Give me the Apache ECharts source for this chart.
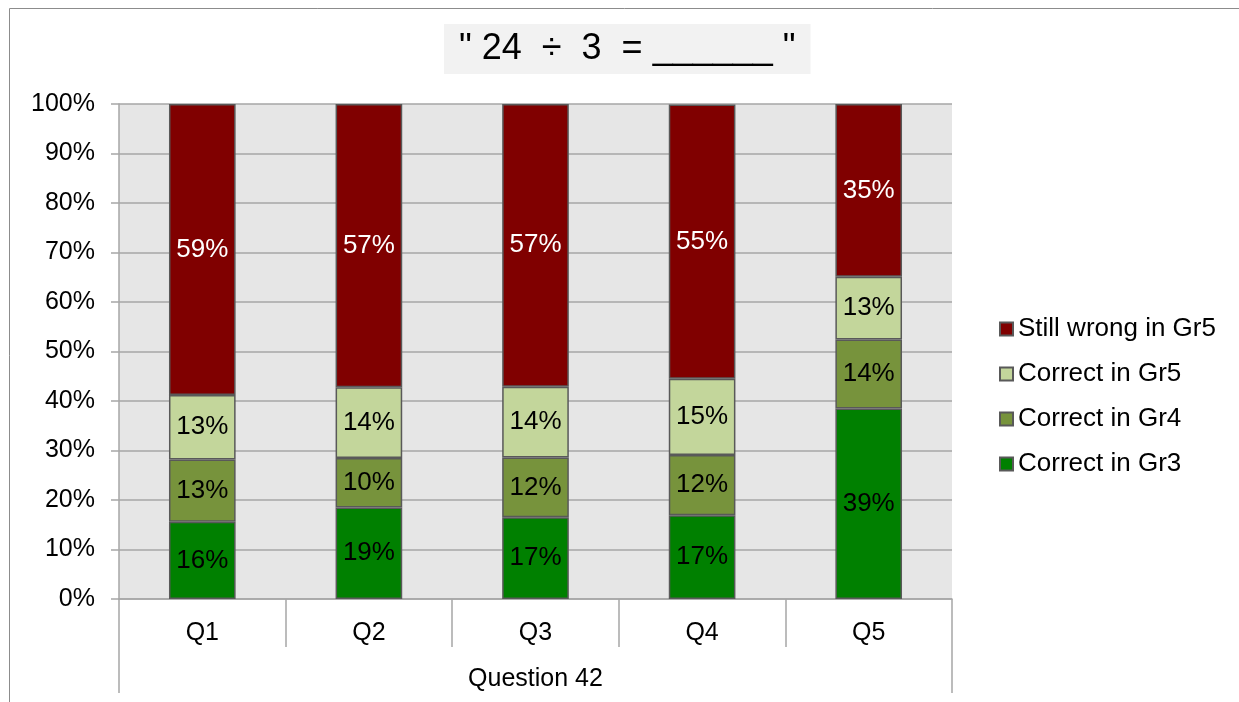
<!DOCTYPE html>
<html>
<head>
<meta charset="utf-8">
<script src="https://cdn.jsdelivr.net/npm/echarts@6/dist/echarts.min.js"></script>
<style>
html,body{margin:0;padding:0;background:#fff;}
#chart{width:1239px;height:702px;}
</style>
</head>
<body>
<div id="chart"></div>
<script>
const categories = ['Q1', 'Q2', 'Q3', 'Q4', 'Q5'];
const groupLabel = 'Question 42';
const titleText = '" 24  \u00F7  3  = ______ "';
const correctGr3 = [15.6, 18.5, 16.5, 16.9, 38.5];
const correctGr4 = [12.6, 10.0, 12.1, 12.2, 13.9];
const correctGr5 = [13.0, 14.3, 14.3, 15.4, 12.7];
const stillWrong = [58.8, 57.2, 57.1, 55.4, 34.9];
const seriesNames = ['Correct in Gr3', 'Correct in Gr4', 'Correct in Gr5', 'Still wrong in Gr5'];
const yTicks = [0, 10, 20, 30, 40, 50, 60, 70, 80, 90, 100];

const FONT = '"Liberation Sans", Arial, sans-serif';
const colors = ['#008000', '#77933C', '#C3D69B', '#800000'];
const labelColors = ['#000', '#000', '#000', '#fff'];
const dataSets = [correctGr3, correctGr4, correctGr5, stillWrong];

const chart = echarts.init(document.getElementById('chart'));
const option = {
  animation: false,
  textStyle: { fontFamily: FONT },
  title: {
    text: titleText,
    left: 444, top: 24,
    backgroundColor: '#f2f2f2',
    padding: [7, 15, 7, 15],
    textStyle: { fontFamily: FONT, fontSize: 36, lineHeight: 36, fontWeight: 'normal', color: '#000' }
  },
  graphic: [{
    type: 'rect', silent: true, z: -10,
    shape: { x: 9.5, y: 8.5, width: 1240, height: 700 },
    style: { fill: 'none', stroke: '#8c8c8c', lineWidth: 1 }
  }],
  legend: {
    orient: 'vertical',
    left: 994, top: 311,
    itemWidth: 13, itemHeight: 13, itemGap: 19,
    data: ['Still wrong in Gr5', 'Correct in Gr5', 'Correct in Gr4', 'Correct in Gr3'],
    textStyle: { fontFamily: FONT, fontSize: 26, color: '#000' },
    icon: 'rect'
  },
  grid: {
    left: 119, right: 287, top: 104, bottom: 103,
    show: true, backgroundColor: '#e6e6e6', borderWidth: 0
  },
  xAxis: [{
    type: 'category', data: categories, position: 'bottom',
    axisLine: { show: true, lineStyle: { color: '#a6a6a6', width: 1.5 } },
    axisTick: { show: true, interval: 0, length: 48, lineStyle: { color: '#a6a6a6', width: 1.5 } },
    axisLabel: { interval: 0, margin: 22, fontSize: 25, color: '#000', fontFamily: FONT }
  }, {
    type: 'category', data: [groupLabel], position: 'bottom',
    axisLine: { show: false },
    axisTick: { show: true, length: 94, lineStyle: { color: '#a6a6a6', width: 1.5 } },
    axisLabel: { margin: 68, fontSize: 25, color: '#000', fontFamily: FONT }
  }],
  yAxis: {
    type: 'value', min: 0, max: 100, interval: 10,
    axisLine: { show: true, lineStyle: { color: '#a6a6a6', width: 1.5 } },
    axisTick: { show: true, length: 8, lineStyle: { color: '#a6a6a6', width: 1.5 } },
    splitLine: { show: true, lineStyle: { color: '#a6a6a6', width: 1.5 } },
    axisLabel: { margin: 24, fontSize: 25, color: '#000', fontFamily: FONT,
      formatter: v => v + '%' }
  },
  series: seriesNames.map((name, i) => ({
    name: name, type: 'bar', stack: 'total', xAxisIndex: 0,
    barWidth: '40%',
    data: dataSets[i],
    itemStyle: { color: colors[i], borderColor: '#595959', borderWidth: 1.5 },
    label: {
      show: true, position: 'inside',
      fontSize: 26, fontFamily: FONT, color: labelColors[i],
      formatter: p => Math.round(p.value) + '%'
    }
  }))
};
chart.setOption(option);
</script>
</body>
</html>
